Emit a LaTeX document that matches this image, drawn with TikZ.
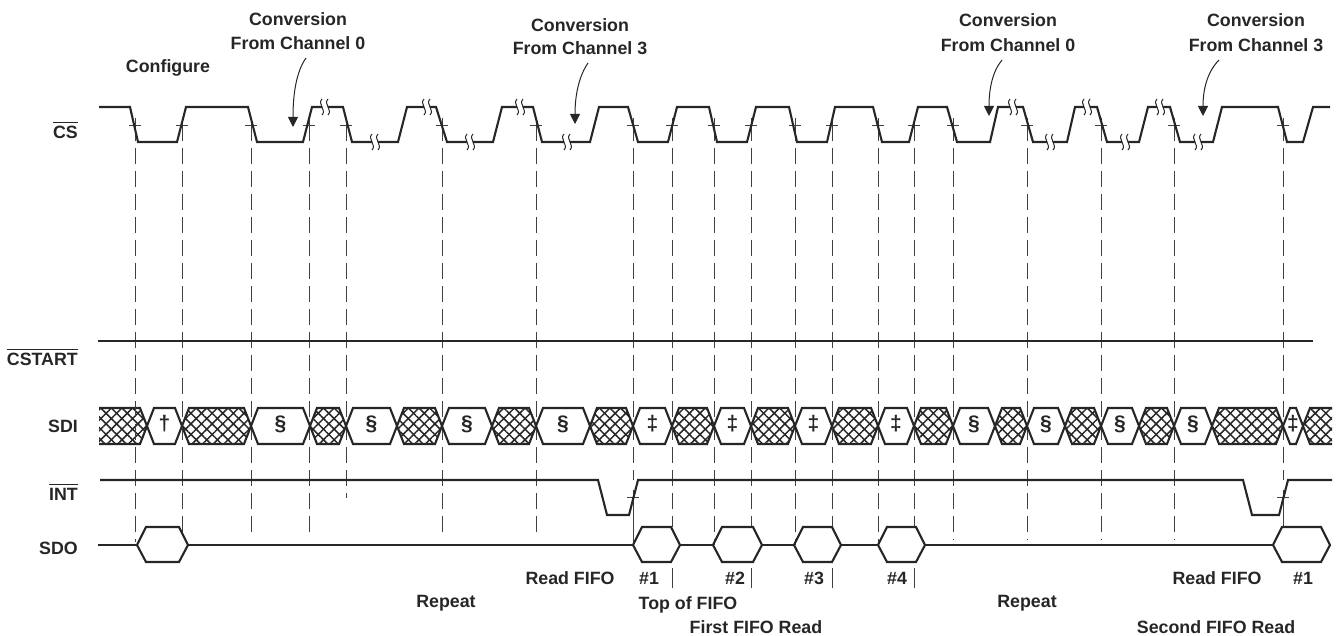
\documentclass[tikz,border=0pt]{standalone}
\usepackage{fontspec}
\setmainfont{Liberation Sans}
\usetikzlibrary{arrows.meta,patterns.meta}
\newcommand{\myovl}[1]{\vbox{\hrule height 1.7pt\kern 2.5pt\hbox{#1}}}
\begin{document}
\begin{tikzpicture}[x=1pt,y=-1pt,
  wave/.style={line width=2.1pt,line join=miter,black!85},
  thinw/.style={line width=1pt,black!85},
  guide/.style={line width=0.9pt,dash pattern=on 16pt off 7pt,black!75},
  solidg/.style={line width=0.9pt,black!75},
  lbl/.style={font=\fontsize{17.8}{20}\selectfont\bfseries,inner sep=0pt,text=black!85},
  sym/.style={font=\fontsize{21}{22}\selectfont\bfseries,inner sep=0pt,text=black!85},
  sig/.style={lbl,anchor=east},
  hatchA/.style={pattern={Lines[angle=45,distance=7.5pt,line width=1.5pt]},pattern color=black!85},
  hatchB/.style={pattern={Lines[angle=-45,distance=7.5pt,line width=1.5pt]},pattern color=black!85},
  arr/.style={line width=1pt,black!85,-{Triangle[width=10pt,length=10pt]}}
]
\useasboundingbox (0,0) rectangle (1337,636);

% ---------- SDI hatched cells ----------
\foreach \a/\b in {182/251,310/346,397/442,492/536,590/633,672/714,751/795,832/878,914/953,995/1027,1065/1101,1139/1174,1212/1283}{
  \path[hatchA] (\a,426) -- (\a+7,408) -- (\b-7,408) -- (\b,426) -- (\b-7,444) -- (\a+7,444) -- cycle;
  \path[hatchB] (\a,426) -- (\a+7,408) -- (\b-7,408) -- (\b,426) -- (\b-7,444) -- (\a+7,444) -- cycle;
  \draw[wave] (\a,426) -- (\a+7,408) -- (\b-7,408) -- (\b,426) -- (\b-7,444) -- (\a+7,444) -- cycle;
}
\path[hatchA] (99,408) -- (140,408) -- (147,426) -- (140,444) -- (99,444) -- cycle;
\path[hatchB] (99,408) -- (140,408) -- (147,426) -- (140,444) -- (99,444) -- cycle;
\draw[wave] (99,408) -- (140,408) -- (147,426) -- (140,444) -- (99,444);
\path[hatchA] (1332,408) -- (1310,408) -- (1303,426) -- (1310,444) -- (1332,444) -- cycle;
\path[hatchB] (1332,408) -- (1310,408) -- (1303,426) -- (1310,444) -- (1332,444) -- cycle;
\draw[wave] (1332,408) -- (1310,408) -- (1303,426) -- (1310,444) -- (1332,444);

% ---------- guide lines ----------
\foreach \x/\e in {135/542,182/532,251/536,309/536,346/498,442/536,536/538,714/545,795/545,878/545,953/540,1027/540,1101/540,1174/540}{
  \draw[guide] (\x,125) -- (\x,\e);
}
\foreach \x in {672,751,832,914}{
  \draw[guide] (\x,125) -- (\x,527);
  \draw[solidg] (\x,568) -- (\x,588);
}
\foreach \x in {633,1283}{
  \draw[guide] (\x,125) -- (\x,480);
  \draw[solidg] (\x,490) -- (\x,\ifnum\x=633 545\else 527\fi);
  \draw[solidg] (\x-6,497) -- (\x+6,497);
}
% tick marks on CS edges
\foreach \x in {135,182,251,309,346,442,536,633,672,714,751,795,832,878,914,953,1027,1101,1174,1283}{
  \draw[solidg] (\x-6,125) -- (\x+6,125);
  \draw[solidg] (\x,118) -- (\x,140);
}

% ---------- SDI text cells ----------
\foreach \a/\b/\t [count=\i] in {147/182/†,251/310/§,346/397/§,442/492/§,536/590/§,633/672/‡,714/751/‡,795/832/‡,878/914/‡,953/995/§,1027/1065/§,1101/1139/§,1174/1212/§,1283/1303/‡}{
  \draw[wave,fill=white] (\a,426) -- (\a+7,408) -- (\b-7,408) -- (\b,426) -- (\b-7,444) -- (\a+7,444) -- cycle;
  \node[sym] (sdi\i) at ({(\a+\b)/2},424) {\t};
}

% ---------- CS ----------
\draw[wave] (99,107) -- (130,107) -- (138,142) -- (177,142) -- (186,107) -- (248,107) -- (257,142)
  -- (303,142) -- (312,107) -- (343,107) -- (352,142) -- (398,142) -- (407,107) -- (436,107)
  -- (447,142) -- (493,142) -- (502,107) -- (533,107) -- (542,142) -- (590,142) -- (599,107)
  -- (628,107) -- (638,142) -- (668,142) -- (677,107) -- (709,107) -- (717,142) -- (747,142)
  -- (756,107) -- (789,107) -- (797,142) -- (827,142) -- (835,107) -- (873,107) -- (882,142)
  -- (909,142) -- (918,107) -- (947,107) -- (957,142) -- (990,142) -- (998,107) -- (1023,107)
  -- (1033,142) -- (1067,142) -- (1075,107) -- (1097,107) -- (1107,142) -- (1139,142)
  -- (1148,107) -- (1170,107) -- (1180,142) -- (1213,142) -- (1222,107) -- (1278,107)
  -- (1287,142) -- (1303,142) -- (1313,107) -- (1330,107);
% break marks
\foreach \x/\y in {325/107,375/142,427/107,470/142,520/107,567/142,1013/107,1050/142,1087/107,1125/142,1160/107,1198/142}{
  \fill[white] (\x-3,\y-2.5) rectangle (\x+3,\y+2.5);
  \draw[thinw] (\x-3,\y-8) .. controls (\x-8,\y-3) and (\x+2,\y+3) .. (\x-3,\y+8);
  \draw[thinw] (\x+3,\y-8) .. controls (\x-2,\y-3) and (\x+8,\y+3) .. (\x+3,\y+8);
}

% ---------- CSTART ----------
\draw[wave] (98,341) -- (1313,341);

% ---------- INT ----------
\draw[wave] (100,480) -- (598,480) -- (607,515) -- (629,515) -- (638,480) -- (1243,480) -- (1252,515)
  -- (1279,515) -- (1288,480) -- (1332,480);

% ---------- SDO ----------
\draw[wave] (98,545) -- (137,545);
\foreach \a/\b in {137/188,633/680,713/762,794/841,878/925,1273/1330}{
  \draw[wave] (\a,545) -- (\a+9,527) -- (\b-9,527) -- (\b,545) -- (\b-9,562) -- (\a+9,562) -- cycle;
}
\draw[wave] (188,545) -- (633,545);
\draw[wave] (680,545) -- (713,545);
\draw[wave] (762,545) -- (794,545);
\draw[wave] (841,545) -- (878,545);
\draw[wave] (925,545) -- (1273,545);

% ---------- signal labels ----------
\node[sig] (lcs) at (78,130) {\myovl{CS}};
\node[sig] (lcst) at (78,357) {\myovl{CSTART}};
\node[sig] (lsdi) at (78,426) {SDI};
\node[sig] (lint) at (78,492) {\myovl{INT}};
\node[sig] (lsdo) at (78,548) {SDO};

% ---------- top labels ----------
\node[lbl] (cfg) at (168,68) {Configure};
\node[lbl] (c1a) at (298,19) {Conversion};
\node[lbl] (c1b) at (298,43) {From Channel 0};
\node[lbl] (c2a) at (580,25) {Conversion};
\node[lbl] (c2b) at (580,48) {From Channel 3};
\node[lbl] (c3a) at (1008,20) {Conversion};
\node[lbl] (c3b) at (1008,45) {From Channel 0};
\node[lbl] (c4a) at (1256,20) {Conversion};
\node[lbl] (c4b) at (1256,45) {From Channel 3};

\coordinate (a1s) at (306,58);  \coordinate (a1e) at (293,127);
\coordinate (a2s) at (588,63);  \coordinate (a2e) at (575,124);
\coordinate (a3s) at (1002,60); \coordinate (a3e) at (989,116);
\coordinate (a4s) at (1219,60); \coordinate (a4e) at (1203,116);
\draw[arr] (a1s) .. controls (296,72) and (293,95) .. (a1e);
\draw[arr] (a2s) .. controls (579,76) and (575,95) .. (a2e);
\draw[arr] (a3s) .. controls (992,72) and (989,90) .. (a3e);
\draw[arr] (a4s) .. controls (1207,72) and (1203,90) .. (a4e);

% ---------- bottom labels ----------
\node[lbl] (rf1) at (570,578) {Read FIFO};
\node[lbl] (n1) at (649,578) {\#1};
\node[lbl] (n2) at (735,578) {\#2};
\node[lbl] (n3) at (814,578) {\#3};
\node[lbl] (n4) at (897,578) {\#4};
\node[lbl] (rep1) at (446,603) {Repeat};
\node[lbl] (top) at (688,605) {Top of FIFO};
\node[lbl] (ffr) at (756,627) {First FIFO Read};
\node[lbl] (rep2) at (1027,603) {Repeat};
\node[lbl] (rf2) at (1217,578) {Read FIFO};
\node[lbl] (n5) at (1303,578) {\#1};
\node[lbl] (sfr) at (1216,627) {Second FIFO Read};
\end{tikzpicture}
\end{document}
